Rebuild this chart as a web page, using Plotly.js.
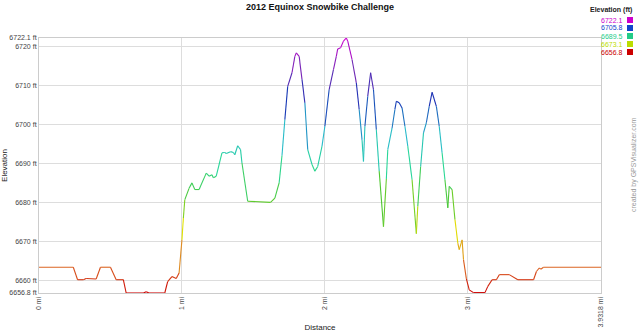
<!DOCTYPE html>
<html>
<head>
<meta charset="utf-8">
<script src="https://cdn.plot.ly/plotly-3.0.1.min.js"></script>
<style>html,body{margin:0;padding:0;background:#fff;}#chart{width:640px;height:332px;}</style>
</head>
<body>
<div id="chart"></div>
<script>
// Distance (mi) and elevation (ft)
var distance = [0, 0.24, 0.27, 0.31, 0.33, 0.40, 0.43, 0.50, 0.54, 0.59, 0.61, 0.73, 0.75, 0.77, 0.88, 0.90, 0.93, 0.96, 0.98, 1.00, 1.01, 1.02, 1.05, 1.07, 1.09, 1.12, 1.17, 1.19, 1.21, 1.22, 1.24, 1.28, 1.30, 1.31, 1.34, 1.36, 1.37, 1.39, 1.41, 1.42, 1.46, 1.62, 1.65, 1.68, 1.70, 1.72, 1.74, 1.77, 1.79, 1.80, 1.82, 1.84, 1.86, 1.88, 1.91, 1.93, 1.95, 1.98, 2.00, 2.03, 2.06, 2.08, 2.09, 2.11, 2.13, 2.15, 2.16, 2.19, 2.22, 2.24, 2.26, 2.27, 2.28, 2.30, 2.32, 2.34, 2.36, 2.38, 2.41, 2.43, 2.44, 2.47, 2.49, 2.50, 2.52, 2.54, 2.56, 2.58, 2.61, 2.64, 2.65, 2.67, 2.69, 2.71, 2.73, 2.75, 2.78, 2.80, 2.82, 2.84, 2.86, 2.87, 2.89, 2.91, 2.93, 2.94, 2.96, 2.97, 2.99, 3.01, 3.04, 3.12, 3.14, 3.17, 3.20, 3.22, 3.29, 3.35, 3.46, 3.48, 3.50, 3.51, 3.53, 3.9318];
var elevation = [6663.4, 6663.4, 6660.2, 6660.2, 6660.5, 6660.4, 6663.4, 6663.4, 6660.2, 6660.2, 6656.8, 6656.8, 6657.1, 6656.8, 6656.8, 6659.7, 6661.0, 6660.5, 6661.9, 6670.4, 6676.0, 6680.7, 6683.6, 6685.0, 6683.3, 6683.3, 6687.5, 6686.7, 6687.1, 6686.3, 6686.7, 6692.7, 6692.8, 6692.5, 6693.0, 6692.8, 6692.2, 6694.5, 6693.5, 6690.1, 6680.3, 6680.0, 6681.1, 6685.0, 6692.0, 6701.2, 6709.7, 6713.2, 6717.4, 6718.3, 6717.4, 6711.5, 6705.5, 6693.5, 6689.7, 6688.0, 6689.2, 6694.4, 6699.5, 6708.9, 6714.0, 6717.4, 6719.3, 6719.6, 6721.3, 6722.1, 6721.3, 6716.6, 6710.6, 6703.8, 6696.0, 6690.5, 6699.5, 6707.2, 6713.2, 6708.9, 6698.6, 6688.0, 6673.8, 6686.0, 6693.5, 6699.0, 6703.8, 6705.9, 6705.5, 6704.2, 6699.5, 6694.4, 6685.8, 6672.0, 6679.0, 6689.2, 6697.8, 6700.4, 6704.6, 6708.2, 6704.6, 6699.5, 6692.7, 6685.8, 6678.6, 6684.1, 6683.3, 6675.6, 6669.6, 6667.9, 6670.4, 6665.3, 6660.4, 6657.6, 6656.9, 6656.9, 6658.5, 6660.2, 6660.2, 6661.5, 6661.5, 6660.2, 6660.2, 6662.3, 6663.2, 6662.9, 6663.4, 6663.4];

var yTickVals = [6656.8, 6660, 6670, 6680, 6690, 6700, 6710, 6720, 6722.1];
var yTickText = ['6656.8 ft', '6660 ft', '6670 ft', '6680 ft', '6690 ft', '6700 ft', '6710 ft', '6720 ft', '6722.1 ft'];
var xTickVals = [0, 1, 2, 3, 3.9318];
var xTickText = ['0 mi', '1 mi', '2 mi', '3 mi', '3.9318 mi'];

var legendValues = ['6722.1', '6705.8', '6689.5', '6673.1', '6656.8'];
var legendColors = ['#cc00cc', '#1144cc', '#22cc88', '#bbdd00', '#cc0000'];

var yMin = 6656.8, yMax = 6722.1;
var stops = [
  [0.00, [204, 0, 0]],
  [0.12, [222, 120, 40]],
  [0.25, [225, 225, 0]],
  [0.37, [80, 200, 50]],
  [0.50, [40, 215, 150]],
  [0.62, [40, 185, 205]],
  [0.75, [20, 50, 180]],
  [0.87, [110, 40, 180]],
  [1.00, [210, 0, 210]]
];
function colorFor(v) {
  var t = (v - yMin) / (yMax - yMin);
  t = Math.max(0, Math.min(1, t));
  for (var i = 1; i < stops.length; i++) {
    if (t <= stops[i][0]) {
      var a = stops[i - 1], b = stops[i];
      var f = (t - a[0]) / (b[0] - a[0]);
      var c = a[1].map(function (x, k) { return Math.round(x + (b[1][k] - x) * f); });
      return 'rgb(' + c.join(',') + ')';
    }
  }
  return 'rgb(210,0,210)';
}

var traces = [];
for (var i = 0; i < distance.length - 1; i++) {
  traces.push({
    x: [distance[i], distance[i + 1]],
    y: [elevation[i], elevation[i + 1]],
    type: 'scatter', mode: 'lines',
    line: {color: colorFor((elevation[i] + elevation[i + 1]) / 2), width: 1.1},
    hoverinfo: 'skip', showlegend: false
  });
}

var fullW = 640 - 39 - 39, fullH = 332 - 38 - 39;
function px(x) { return (x - 39) / fullW; }
function py(y) { return (332 - 39 - y) / fullH; }
var shapes = [];
var annotations = [{
  text: '<b>Elevation (ft)</b>', x: px(634), y: py(10), xref: 'paper', yref: 'paper',
  xanchor: 'right', yanchor: 'middle', showarrow: false,
  font: {family: 'Liberation Sans, Arial, sans-serif', size: 7, color: '#222'}
}];
for (var j = 0; j < legendValues.length; j++) {
  var cy = 20 + j * 8;
  annotations.push({
    text: legendValues[j], x: px(625), y: py(cy), xref: 'paper', yref: 'paper',
    xanchor: 'right', yanchor: 'middle', showarrow: false,
    font: {family: 'Liberation Sans, Arial, sans-serif', size: 7, color: legendColors[j]}
  });
  shapes.push({
    type: 'rect', xref: 'paper', yref: 'paper',
    x0: px(627), x1: px(633), y0: py(cy - 3), y1: py(cy + 3),
    fillcolor: legendColors[j], line: {width: 0}
  });
}
annotations.push({
  text: 'created by GPSVisualizer.com', x: px(634), y: py(165), xref: 'paper', yref: 'paper',
  textangle: -90, xanchor: 'center', yanchor: 'middle', showarrow: false,
  font: {family: 'Liberation Sans, Arial, sans-serif', size: 7, color: '#999'}
});

var layout = {
  width: 640, height: 332,
  margin: {l: 39, r: 39, t: 38, b: 39},
  paper_bgcolor: '#fff', plot_bgcolor: '#fff',
  showlegend: false,
  title: {text: '<b>2012 Equinox Snowbike Challenge</b>', x: 0.5, xanchor: 'center', y: 0.978, yanchor: 'middle',
    font: {family: 'Liberation Sans, Arial, sans-serif', size: 9, color: '#111'}},
  xaxis: {
    range: [0, 3.9318], tickmode: 'array', tickvals: xTickVals, ticktext: xTickText,
    tickangle: -90, tickfont: {family: 'Liberation Sans, Arial, sans-serif', size: 7, color: '#444'},
    showgrid: true, gridcolor: '#dddddd', gridwidth: 1, zeroline: false,
    showline: true, linecolor: '#cccccc', linewidth: 1, mirror: true, ticks: '',
    title: {text: 'Distance', standoff: 8, font: {family: 'Liberation Sans, Arial, sans-serif', size: 8, color: '#222'}},
    fixedrange: true
  },
  yaxis: {
    range: [yMin, yMax], tickmode: 'array', tickvals: yTickVals, ticktext: yTickText,
    tickfont: {family: 'Liberation Sans, Arial, sans-serif', size: 7, color: '#444'},
    showgrid: true, gridcolor: '#dddddd', gridwidth: 1, zeroline: false,
    showline: true, linecolor: '#cccccc', linewidth: 1, mirror: true, ticks: '',
    title: {text: 'Elevation', standoff: 6, font: {family: 'Liberation Sans, Arial, sans-serif', size: 8, color: '#222'}},
    fixedrange: true
  },
  annotations: annotations,
  shapes: shapes
};

Plotly.newPlot('chart', traces, layout, {displayModeBar: false, staticPlot: true});
</script>
</body>
</html>
